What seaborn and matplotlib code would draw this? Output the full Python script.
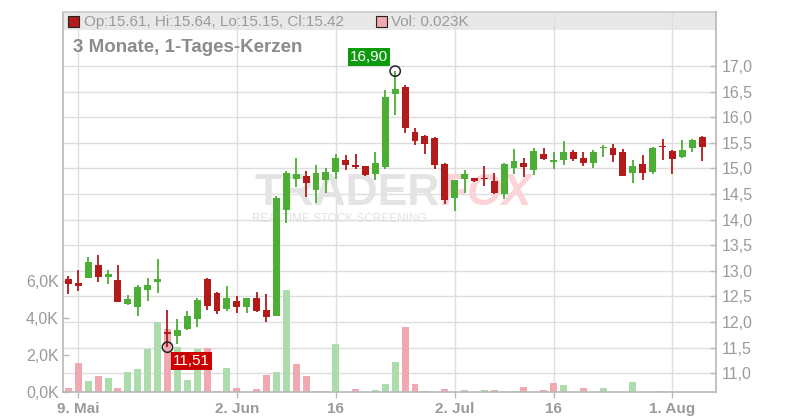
import numpy as np
import pandas as pd
import seaborn as sns
import matplotlib.pyplot as plt
from matplotlib.patches import Rectangle

# --- DATA (one entry per trading day) ---
dates = pd.bdate_range("2025-05-08", "2025-08-06")

opens = [12.84, 12.76, 12.87, 13.11, 12.89, 12.82, 12.36, 12.30, 12.63, 12.79,
         11.81, 11.72, 11.87, 12.07, 12.84, 12.56, 12.26, 12.41, 12.30, 12.48,
         12.24, 12.11, 14.19, 14.79, 14.86, 14.58, 14.78, 14.94, 15.16, 15.07,
         15.05, 14.89, 15.03, 16.46, 16.59, 15.71, 15.63, 15.59, 15.09, 14.43,
         14.79, 14.81, 14.81, 14.75, 14.50, 15.00, 15.11, 14.96, 15.28, 15.13,
         15.16, 15.32, 15.20, 15.11, 15.39, 15.40, 15.32, 14.92, 15.09, 14.94,
         15.44, 15.34, 15.23, 15.40, 15.61]
highs = [12.90, 13.01, 13.27, 13.31, 13.02, 13.11, 12.53, 12.72, 12.86, 13.23,
         12.24, 12.06, 12.22, 12.48, 12.86, 12.58, 12.70, 12.51, 12.48, 12.59,
         12.54, 14.46, 14.95, 15.20, 14.95, 15.07, 15.01, 15.28, 15.26, 15.28,
         15.05, 15.32, 16.53, 16.90, 16.63, 15.79, 15.65, 15.61, 15.11, 14.77,
         14.97, 14.81, 15.05, 14.91, 15.11, 15.38, 15.20, 15.40, 15.40, 15.32,
         15.54, 15.36, 15.32, 15.36, 15.46, 15.48, 15.38, 15.16, 15.26, 15.42,
         15.57, 15.36, 15.56, 15.57, 15.64]
lows = [12.55, 12.61, 12.87, 12.79, 12.75, 12.40, 12.34, 12.12, 12.42, 12.57,
        11.51, 11.57, 11.85, 11.91, 12.24, 12.16, 12.21, 12.18, 12.18, 12.20,
        12.01, 12.11, 13.94, 14.64, 14.45, 14.33, 14.53, 14.79, 14.97, 14.99,
        14.85, 14.77, 14.99, 16.05, 15.70, 15.46, 15.29, 14.98, 14.31, 14.17,
        14.52, 14.73, 14.66, 14.50, 14.40, 14.90, 14.84, 14.88, 15.16, 14.98,
        15.07, 15.15, 15.05, 15.01, 15.23, 15.13, 14.86, 14.72, 14.78, 14.90,
        15.17, 14.90, 15.21, 15.33, 15.15]
closes = [12.75, 12.71, 13.17, 12.89, 12.93, 12.40, 12.45, 12.69, 12.72, 12.84,
          11.77, 11.85, 12.12, 12.43, 12.32, 12.22, 12.48, 12.30, 12.48, 12.22,
          12.09, 14.42, 14.92, 14.89, 14.71, 14.91, 14.93, 15.20, 15.07, 15.03,
          14.87, 15.11, 16.39, 16.55, 15.78, 15.54, 15.48, 15.07, 14.39, 14.77,
          14.89, 14.75, 14.79, 14.52, 15.09, 15.15, 15.03, 15.34, 15.19, 15.17,
          15.32, 15.19, 15.11, 15.32, 15.42, 15.27, 14.86, 15.05, 14.92, 15.40,
          15.41, 15.19, 15.36, 15.56, 15.42]
volume_k = [0.23, 1.57, 0.60, 0.87, 0.76, 0.23, 1.08, 1.25, 2.33, 3.79,
            3.41, 2.44, 0.67, 2.33, 2.40, 0.05, 1.30, 0.20, 0.0, 0.16,
            0.92, 1.08, 5.50, 1.52, 0.87, 0.05, 0.05, 2.60, 0.0, 0.15,
            0.0, 0.10, 0.43, 1.64, 3.50, 0.43, 0.05, 0.0, 0.15, 0.0,
            0.10, 0.0, 0.10, 0.10, 0.0, 0.05, 0.26, 0.0, 0.10, 0.48,
            0.38, 0.0, 0.20, 0.0, 0.20, 0.0, 0.0, 0.54, 0.0, 0.0,
            0.05, 0.0, 0.0, 0.0, 0.023]

tick_dates = ["2025-05-09", "2025-06-02", "2025-06-16", "2025-07-02", "2025-07-16", "2025-08-01"]
tick_labels = ["9. Mai", "2. Jun", "16", "2. Jul", "16", "1. Aug"]
price_ticks = [11.0, 11.5, 12.0, 12.5, 13.0, 13.5, 14.0, 14.5, 15.0, 15.5, 16.0, 16.5, 17.0]
vol_ticks = [0, 2, 4, 6]

# --- STYLE ---
GREEN = "#4cae34"
RED = "#b31a1a"
VOL_GREEN = "#acdcab"
VOL_RED = "#f0a8b1"
GRID = "#dedede"
SPINE = "#b8b8b8"
LABEL = "#9a9a9a"

sns.set_theme(style="white")
plt.rcParams['font.family'] = ['Liberation Sans', 'DejaVu Sans']

o = np.array(opens)
h = np.array(highs)
l = np.array(lows)
c = np.array(closes)
x = np.arange(len(dates))

# volume colour: close against previous close
prev = np.concatenate([[o[0]], c[:-1]])
df = pd.DataFrame({
    "pos": x,
    "vol": volume_k,
    "dir": np.where(c >= prev, "up", "down"),
})

fig = plt.figure(figsize=(8, 4.2), dpi=100)
ax_v = fig.add_axes([63 / 800, 28 / 420, 653 / 800, 380.3 / 420])
ax_p = ax_v.twinx()

# volume bars (left axis)
sns.barplot(data=df, x="pos", y="vol", hue="dir", palette={"up": VOL_GREEN, "down": VOL_RED},
            native_scale=True, dodge=False, width=0.7, errorbar=None, legend=False,
            saturation=1, linewidth=0, ax=ax_v)

v_lo, v_hi = 0, 20.6
p_lo, p_hi = 10.635, 18.06
ax_v.set_ylim(v_lo, v_hi)
ax_p.set_ylim(p_lo, p_hi)
ax_v.set_xlim(-0.55, 65.4)

# horizontal grid of the price axis, kept behind the bars
for t in price_ticks:
    yv = v_lo + (t - p_lo) / (p_hi - p_lo) * (v_hi - v_lo)
    ax_v.axhline(yv, color=GRID, lw=1, zorder=0.5)
ax_v.set_axisbelow(True)
ax_v.grid(axis='x', color=GRID, lw=1)
ax_v.grid(axis='y', visible=False)

# header band
ax_v.add_patch(Rectangle((0, 0.952), 1, 0.048, transform=ax_v.transAxes,
                         facecolor="#e8e8e8", edgecolor="none", zorder=0.2))

# candles (right axis)
up = c >= o
col = np.where(up, GREEN, RED)
ax_p.vlines(x, l, h, colors=col, lw=1.3, zorder=3)
ax_p.bar(x, np.maximum(np.abs(c - o), 0.03), bottom=np.minimum(o, c), width=0.7,
         color=col, linewidth=0, zorder=4)

# high / low markers
hi_i = int(np.argmax(h))
lo_i = int(np.argmin(l))
ax_p.scatter([x[hi_i], x[lo_i]], [h[hi_i], l[lo_i]], s=55, facecolors='none',
             edgecolors='#222222', linewidths=1.1, zorder=6)
ax_p.annotate(f"{h[hi_i]:.2f}".replace('.', ','), xy=(x[hi_i], h[hi_i]), xytext=(-26, 14),
              textcoords='offset pixels', ha='center', va='center', color='white', fontsize=11,
              bbox=dict(boxstyle='square,pad=0.12', fc='#0e9a0e', ec='none'), zorder=7)
ax_p.annotate(f"{l[lo_i]:.2f}".replace('.', ','), xy=(x[lo_i], l[lo_i]), xytext=(24, -14),
              textcoords='offset pixels', ha='center', va='center', color='white', fontsize=11,
              bbox=dict(boxstyle='square,pad=0.12', fc='#cc0000', ec='none'), zorder=7)

# ticks and labels
tick_pos = [dates.get_loc(pd.Timestamp(d)) for d in tick_dates]
ax_v.set_xticks(tick_pos, labels=tick_labels)
for lab in ax_v.get_xticklabels():
    lab.set_fontweight('bold')
ax_v.tick_params(axis='x', direction='out', length=4, width=1, color=SPINE,
                 labelcolor=LABEL, labelsize=11, pad=3, bottom=True)
ax_v.set_yticks(vol_ticks, labels=[f"{v:.1f}K".replace('.', ',') for v in vol_ticks])
ax_v.tick_params(axis='y', direction='in', length=4, width=1, color=SPINE,
                 labelcolor=LABEL, labelsize=11.5, pad=3, left=True)
ax_p.set_yticks(price_ticks, labels=[f"{t:.1f}".replace('.', ',') for t in price_ticks])
ax_p.tick_params(axis='y', direction='in', length=4, width=1, color=SPINE,
                 labelcolor=LABEL, labelsize=11.5, pad=4, right=True)
ax_v.set_xlabel("")
ax_v.set_ylabel("")

for side in ["left", "bottom"]:
    ax_v.spines[side].set_color(SPINE)
    ax_v.spines[side].set_linewidth(1.2)
ax_v.spines["top"].set_color("#cccccc")
ax_v.spines["right"].set_visible(False)
for side in ["left", "bottom", "top"]:
    ax_p.spines[side].set_visible(False)
ax_p.spines["right"].set_color(SPINE)
ax_p.spines["right"].set_linewidth(1.2)

# header texts
ax_v.add_patch(Rectangle((0.008, 0.96), 0.016, 0.028, transform=ax_v.transAxes,
                         facecolor=RED, edgecolor='#222222', lw=0.8, zorder=2))
ax_v.text(0.032, 0.974, f"Op:{o[-1]:.2f}, Hi:{h[-1]:.2f}, Lo:{l[-1]:.2f}, Cl:{c[-1]:.2f}",
          transform=ax_v.transAxes, ha='left', va='center', color=LABEL, fontsize=11, zorder=2)
ax_v.add_patch(Rectangle((0.480, 0.96), 0.016, 0.028, transform=ax_v.transAxes,
                         facecolor=VOL_RED, edgecolor='#222222', lw=0.8, zorder=2))
ax_v.text(0.503, 0.974, f"Vol: {volume_k[-1]:.3f}K", transform=ax_v.transAxes,
          ha='left', va='center', color=LABEL, fontsize=11, zorder=2)
ax_v.text(0.015, 0.905, "3 Monate, 1-Tages-Kerzen", transform=ax_v.transAxes,
          ha='left', va='center', color='#8c8c8c', fontsize=13.5, fontweight='bold', zorder=2)

# watermark
ax_v.text(0.577, 0.523, "TRADER", transform=ax_v.transAxes, ha='right', va='center',
          color='#e4e4e4', fontsize=32, fontweight='bold', zorder=0.8)
ax_v.text(0.577, 0.523, "FOX", transform=ax_v.transAxes, ha='left', va='center',
          color='#fcd3d7', fontsize=32, fontweight='bold', fontstyle='italic', zorder=0.8)
ax_v.text(0.424, 0.455, "REALTIME STOCK SCREENING", transform=ax_v.transAxes, ha='center',
          va='center', color='#e2e2e2', fontsize=8.5, zorder=0.8)

fig.savefig("out.png", dpi=100)
